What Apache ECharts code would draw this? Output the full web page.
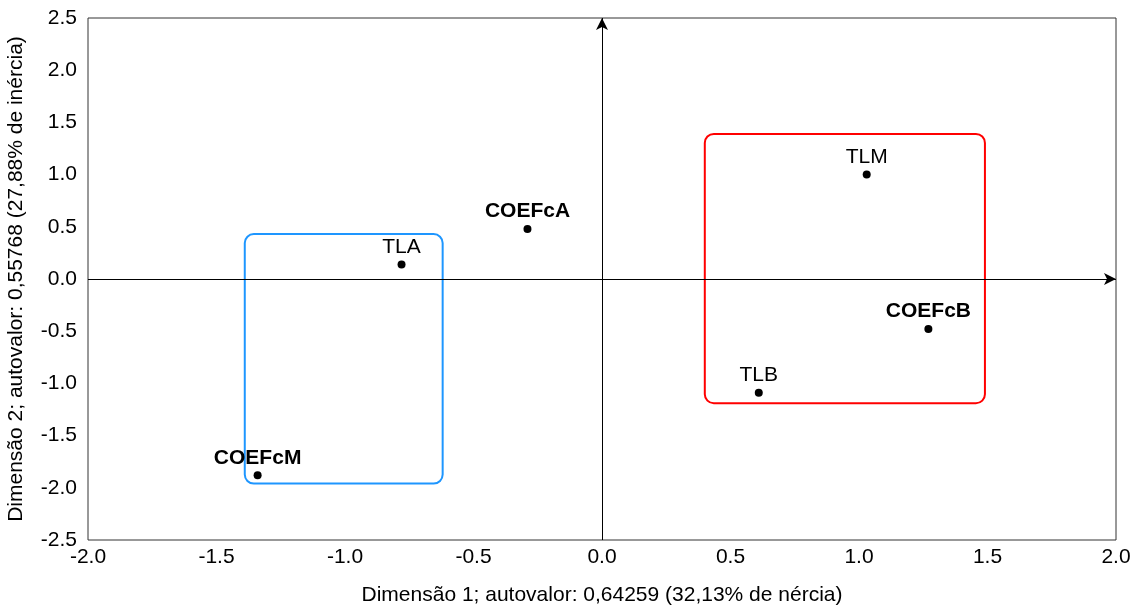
<!DOCTYPE html>
<html>
<head>
<meta charset="utf-8">
<script src="https://cdn.jsdelivr.net/npm/echarts@6/dist/echarts.min.js"></script>
<style>html,body{margin:0;padding:0;background:#fff}#c{width:1142px;height:607px}</style>
</head>
<body>
<div id="c"></div>
<script>
// Data
const pointNames = ['TLM', 'COEFcA', 'TLA', 'COEFcB', 'TLB', 'COEFcM'];
const dim1 = [1.03, -0.29, -0.78, 1.27, 0.61, -1.34];
const dim2 = [1.00, 0.48, 0.14, -0.48, -1.09, -1.88];
// Group boxes: [x1, y1, x2, y2]
const boxBlue = [-1.39, 0.43, -0.62, -1.96];
const boxRed = [0.40, 1.39, 1.49, -1.19];
const xTitle = 'Dimensão 1; autovalor: 0,64259 (32,13% de nércia)';
const yTitle = 'Dimensão 2; autovalor: 0,55768 (27,88% de inércia)';

const FONT = '"Liberation Sans", Arial, sans-serif';
const chart = echarts.init(document.getElementById('c'));

const pts = pointNames.map((n, i) => ({
  value: [dim1[i], dim2[i]],
  name: n,
  label: n.startsWith('COEF') ? { fontWeight: 'bold', fontSize: 21 } : { fontWeight: 'normal', fontSize: 21 }
}));

const boxes = [
  { value: boxBlue, color: '#1e96ff' },
  { value: boxRed, color: '#ff0000' }
];

chart.setOption({
  animation: false,
  backgroundColor: '#fff',
  textStyle: { fontFamily: FONT, color: '#000' },
  grid: {
    left: 88, right: 26, top: 18, bottom: 67,
    containLabel: false, outerBoundsMode: 'none',
    show: true, borderColor: '#333', borderWidth: 1, backgroundColor: 'transparent'
  },
  xAxis: {
    type: 'value', min: -2, max: 2, interval: 0.5,
    axisLine: { show: false }, axisTick: { show: false }, splitLine: { show: false },
    axisLabel: { color: '#000', fontSize: 21, fontFamily: FONT, margin: 7,
      formatter: v => v.toFixed(1) },
    name: xTitle, nameLocation: 'middle', nameGap: 45,
    nameTextStyle: { color: '#000', fontSize: 21, fontFamily: FONT }
  },
  yAxis: {
    type: 'value', min: -2.5, max: 2.5, interval: 0.5,
    axisLine: { show: false }, axisTick: { show: false }, splitLine: { show: false },
    axisLabel: { color: '#000', fontSize: 21, fontFamily: FONT, margin: 11,
      formatter: v => v.toFixed(1) },
    name: yTitle, nameLocation: 'middle', nameGap: 61,
    nameTextStyle: { color: '#000', fontSize: 21, fontFamily: FONT }
  },
  series: [
    {
      type: 'custom',
      coordinateSystem: 'cartesian2d',
      silent: true,
      z: 1,
      data: boxes.map(b => b.value),
      renderItem: function (params, api) {
        const p1 = api.coord([api.value(0), api.value(1)]);
        const p2 = api.coord([api.value(2), api.value(3)]);
        return {
          type: 'rect',
          shape: {
            x: Math.min(p1[0], p2[0]), y: Math.min(p1[1], p2[1]),
            width: Math.abs(p2[0] - p1[0]), height: Math.abs(p2[1] - p1[1]), r: 9
          },
          style: { fill: 'none', stroke: boxes[params.dataIndex].color, lineWidth: 2 }
        };
      }
    },
    {
      type: 'scatter',
      z: 3,
      symbol: 'circle',
      symbolSize: 8,
      itemStyle: { color: '#000', opacity: 1 },
      data: pts,
      label: {
        show: true, position: 'top', distance: 3,
        formatter: p => p.name,
        color: '#000', fontSize: 21, fontFamily: FONT
      },
      markLine: {
        silent: true,
        symbol: ['none', 'arrow'],
        symbolSize: [9, 12],
        label: { show: false },
        lineStyle: { color: '#000', width: 1, type: 'solid', opacity: 1 },
        data: [{ xAxis: 0 }, { yAxis: 0 }]
      }
    }
  ]
});
</script>
</body>
</html>
